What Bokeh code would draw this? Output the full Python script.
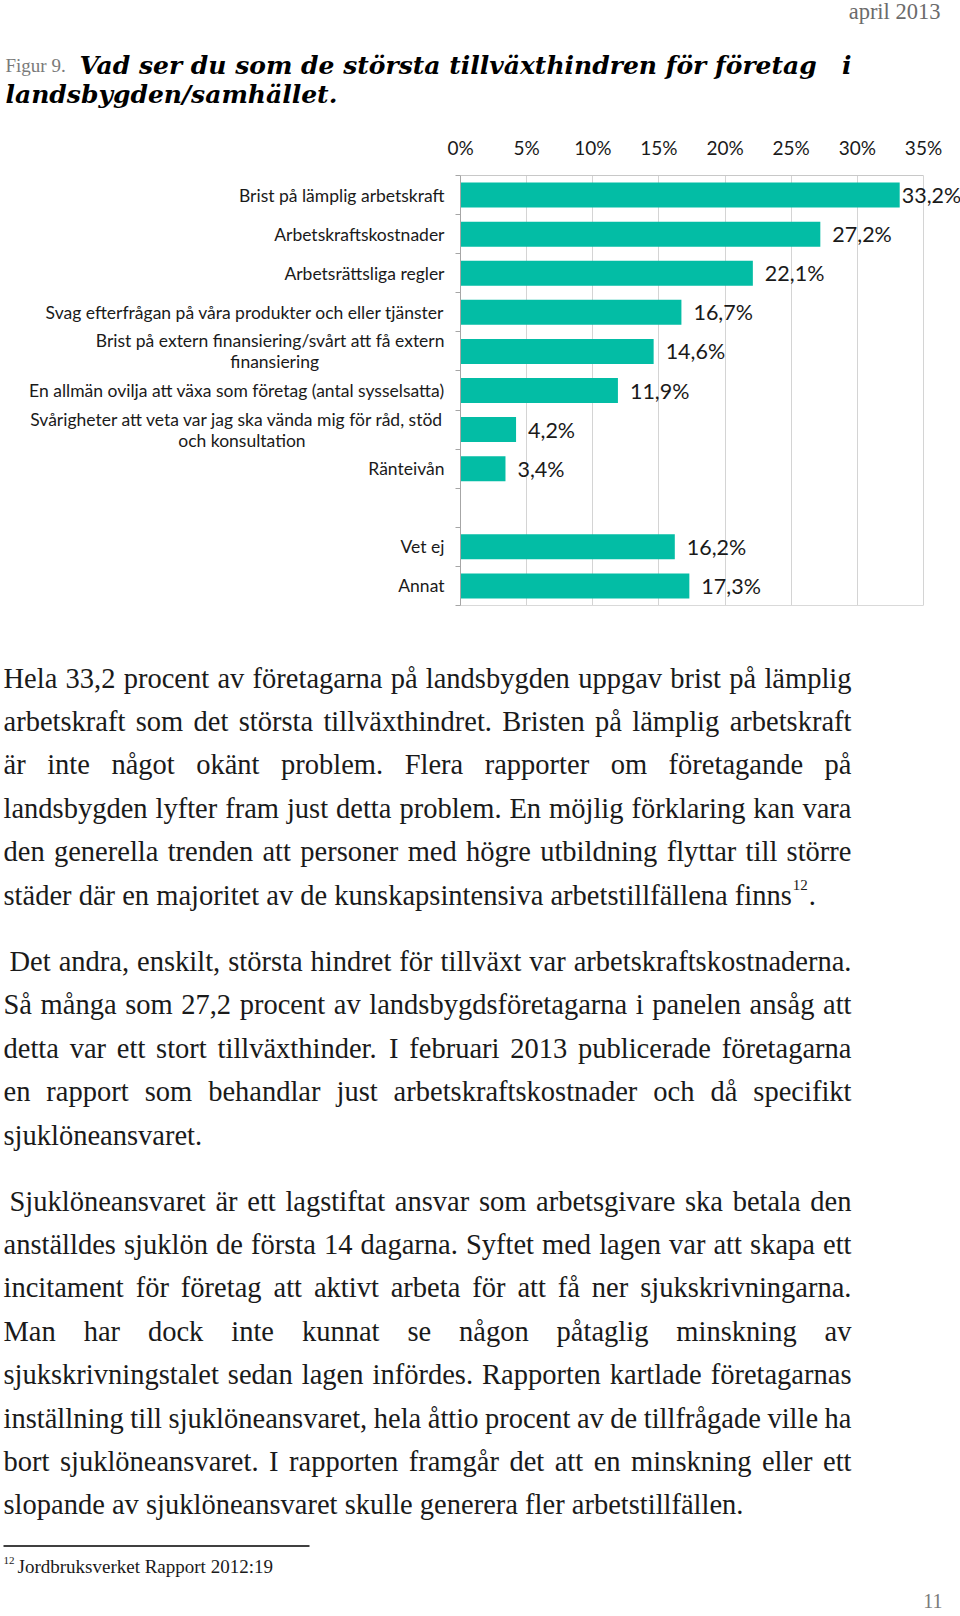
from bokeh.plotting import figure
from bokeh.models import Range1d, FixedTicker, LabelSet, ColumnDataSource, LinearAxis
from bokeh.layouts import column
from bokeh.embed import file_html
from bokeh.resources import INLINE
from bokeh.core.properties import value

# ---------------- data ----------------
categories = [
    "Brist på lämplig arbetskraft",
    "Arbetskraftskostnader",
    "Arbetsrättsliga regler",
    "Svag efterfrågan på våra produkter och eller tjänster",
    "Brist på extern finansiering/svårt att få extern\nfinansiering",
    "En allmän ovilja att växa som företag (antal sysselsatta)",
    "Svårigheter att veta var jag ska vända mig för råd, stöd\noch konsultation",
    "Ränteivån",
    "",
    "Vet ej",
    "Annat",
]
shares = [33.2, 27.2, 22.1, 16.7, 14.6, 11.9, 4.2, 3.4, None, 16.2, 17.3]
x_ticks = [0, 5, 10, 15, 20, 25, 30, 35]
x_tick_labels = ["0%", "5%", "10%", "15%", "20%", "25%", "30%", "35%"]

header_date = "april 2013"
figure_no = "Figur 9."
title_lines = ["Vad ser du som de största tillväxthindren för företag i",
               "landsbygden/samhället."]

paragraphs = [
    ["Hela 33,2 procent av företagarna på landsbygden uppgav brist på lämplig",
     "arbetskraft som det största tillväxthindret. Bristen på lämplig arbetskraft",
     "är inte något okänt problem. Flera rapporter om företagande på",
     "landsbygden lyfter fram just detta problem. En möjlig förklaring kan vara",
     "den generella trenden att personer med högre utbildning flyttar till större",
     "städer där en majoritet av de kunskapsintensiva arbetstillfällena finns¹²."],
    ["Det andra, enskilt, största hindret för tillväxt var arbetskraftskostnaderna.",
     "Så många som 27,2 procent av landsbygdsföretagarna i panelen ansåg att",
     "detta var ett stort tillväxthinder. I februari 2013 publicerade företagarna",
     "en rapport som behandlar just arbetskraftskostnader och då specifikt",
     "sjuklöneansvaret."],
    ["Sjuklöneansvaret är ett lagstiftat ansvar som arbetsgivare ska betala den",
     "anställdes sjuklön de första 14 dagarna. Syftet med lagen var att skapa ett",
     "incitament för företag att aktivt arbeta för att få ner sjukskrivningarna.",
     "Man har dock inte kunnat se någon påtaglig minskning av",
     "sjukskrivningstalet sedan lagen infördes. Rapporten kartlade företagarnas",
     "inställning till sjuklöneansvaret, hela åttio procent av de tillfrågade ville ha",
     "bort sjuklöneansvaret. I rapporten framgår det att en minskning eller ett",
     "slopande av sjuklöneansvaret skulle generera fler arbetstillfällen."],
]
footnote_mark = "12"
footnote_text = "Jordbruksverket Rapport 2012:19"
page_number = "11"

# ---------------- styling helpers ----------------
PAGE_W = 960
TEAL = "#03BDA5"
SERIF = "Liberation Serif"
SANS = "Lato"
TXT_DY = 8  # rendered alphabetic baseline sits this much lower than its data y

# Times / Liberation Serif advance widths (1/1000 em)
_W = dict(zip("abcdefghijklmnopqrstuvwxyz",
              [444, 500, 444, 500, 444, 333, 500, 500, 278, 278, 500, 278, 778,
               500, 500, 500, 500, 333, 389, 278, 500, 500, 722, 500, 500, 444]))
_W.update(dict(zip("ABCDEFGHIJKLMNOPQRSTUVWXYZ",
                   [722, 667, 667, 722, 611, 556, 722, 722, 333, 389, 722, 611, 889,
                    722, 722, 556, 722, 667, 556, 611, 722, 722, 944, 722, 722, 611])))
_W.update({"å": 444, "ä": 444, "ö": 500, "Å": 722, "Ä": 722, "Ö": 722, " ": 250,
           ",": 250, ".": 250, ":": 278, "(": 333, ")": 333, "/": 278, "%": 833,
           "-": 333, "¹": 300, "²": 300})
for d in "0123456789":
    _W[d] = 500


def tw(s, size):
    return sum(_W.get(ch, 500) for ch in s) * size / 1000.0


def text_fig(h):
    f = figure(width=PAGE_W, height=h, x_range=Range1d(0, PAGE_W), y_range=Range1d(h, 0),
               x_axis_type=None, y_axis_type=None, min_border=0, output_backend="svg",
               toolbar_location=None)
    f.frame_align = False
    f.grid.visible = False
    f.outline_line_color = None
    return f


# ---------------- header ----------------
HDR_H = 120
hdr = text_fig(HDR_H)
hdr.text(x=[940], y=[19 - TXT_DY], text=[header_date], text_align="right",
         text_baseline="alphabetic", text_font=value(SERIF), text_font_size="22.5px",
         text_color="#6b6b6b")
hdr.text(x=[5], y=[73 - TXT_DY], text=[figure_no], text_align="left", text_baseline="alphabetic",
         text_font=value(SERIF), text_font_size="19px", text_color="#7a7a7a")
t1_words = title_lines[0].rsplit(" ", 1)
title_style = dict(text_baseline="alphabetic", text_font=value("DejaVu Serif"),
                   text_font_style="bold italic", text_font_size="25px", text_color="#000000")
hdr.text(x=[79, 5], y=[73 - TXT_DY, 101.5 - TXT_DY], text=[t1_words[0], title_lines[1]],
         text_align="left", **title_style)
hdr.text(x=[851], y=[73 - TXT_DY], text=[t1_words[1]], text_align="right", **title_style)

# ---------------- chart ----------------
n = len(categories)
centers = [i + 0.5 for i in range(n)]
bounds = list(range(n + 1))
CH_H = 505
X_MAX = 35
FRAME_L, FRAME_R = 460, 960            # frame spans past 35 % so end labels are not clipped
PX_PER_UNIT = 463 / X_MAX
x_end = (FRAME_R - FRAME_L) / PX_PER_UNIT


def centre_lines(lab):
    # right-aligned multi-line tick labels: pad the shorter line so the block looks centred
    if "\n" not in lab:
        return lab
    a, b = lab.split("\n")
    pad = int(round((len(a) - len(b)) * 7.0 / 2 / 4.55))
    return a + "\n" + b + "\u00a0" * pad


chart = figure(width=PAGE_W, height=CH_H, x_range=Range1d(0, x_end), y_range=Range1d(n, 0),
               x_axis_location="above", output_backend="svg", toolbar_location=None,
               min_border_left=FRAME_L, min_border_right=PAGE_W - FRAME_R,
               min_border_top=55, min_border_bottom=20)
chart.frame_align = False
chart.outline_line_color = None
chart.ygrid.visible = False
chart.xgrid.ticker = FixedTicker(ticks=x_ticks)
chart.xgrid.grid_line_color = "#d4d4d4"

xa = chart.xaxis[0]
xa.ticker = FixedTicker(ticks=x_ticks)
xa.bounds = (0, X_MAX)
xa.major_label_overrides = {t: lab for t, lab in zip(x_ticks, x_tick_labels)}
xa.axis_line_color = "#c8c8c8"
xa.major_tick_out = 0
xa.major_tick_in = 0
xa.minor_tick_out = 0
xa.major_label_standoff = 17
xa.major_label_text_font = SANS
xa.major_label_text_font_size = "19px"
xa.major_label_text_color = "#1a1a1a"

bx = LinearAxis(bounds=(0, X_MAX), ticker=FixedTicker(ticks=[]), axis_line_color="#d9d9d9",
                major_tick_out=0, major_tick_in=0, minor_tick_out=0, minor_tick_in=0,
                major_label_text_font_size="0px")
chart.add_layout(bx, "below")

ya = chart.yaxis[0]
ya.ticker = FixedTicker(ticks=centers, minor_ticks=bounds)
ya.major_label_overrides = {c: centre_lines(lab) for c, lab in zip(centers, categories)}
ya.axis_line_color = "#a6a6a6"
ya.major_tick_out = 0
ya.major_tick_in = 0
ya.minor_tick_out = 5
ya.minor_tick_in = 0
ya.minor_tick_line_color = "#a6a6a6"
ya.major_label_standoff = 11
ya.major_label_text_font = SANS
ya.major_label_text_font_size = "17.5px"
ya.major_label_text_line_height = 1.0
ya.major_label_text_color = "#1a1a1a"

bar_y = [c for c, v in zip(centers, shares) if v is not None]
bar_v = [v for v in shares if v is not None]
bars = ColumnDataSource(dict(
    y=bar_y, v=bar_v,
    lab=[("%.1f" % v).replace(".", ",") + "%" for v in bar_v],
    off=[2 if v == max(bar_v) else 12 for v in bar_v],
))
chart.hbar(y="y", left=0, right="v", height=0.64, source=bars, fill_color=TEAL, line_color=None)
chart.add_layout(LabelSet(x="v", y="y", text="lab", x_offset="off", source=bars,
                          text_baseline="middle", text_align="left",
                          text_font=value(SANS), text_font_size="21.5px", text_color="#1a1a1a"))

# ---------------- body text ----------------
BODY_TOP = HDR_H + CH_H  # page y where body figure starts
BODY_H = 1614 - BODY_TOP
body = text_fig(BODY_H)


def by(page_y):
    return page_y - TXT_DY - BODY_TOP


FS = 28.5
LEFT, RIGHT = 3.0, 851.0
LINE_H = 43.4
para_starts = [685.5, 969.0, 1208.5]  # page baselines of first lines

wx, wy, wt = [], [], []
sup_x, sup_y = [], []
for pi, (p_lines, start) in enumerate(zip(paragraphs, para_starts)):
    for li, line in enumerate(p_lines):
        base = by(start + li * LINE_H)
        indent = 6.0 if (li == 0 and pi > 0) else 0.0
        words = line.split(" ")
        widths = [tw(w, FS) for w in words]
        last = li == len(p_lines) - 1
        if last or len(words) == 1:
            gap = tw(" ", FS)
        else:
            gap = (RIGHT - LEFT - indent - sum(widths)) / (len(words) - 1)
        x = LEFT + indent
        for w, wd in zip(words, widths):
            if "¹²" in w:
                head, tail = w.split("¹²")
                wx.append(x); wy.append(base); wt.append(head)
                x2 = x + tw(head, FS)
                sup_x.append(x2 + 1); sup_y.append(base - 10)
                wx.append(x2 + 1 + tw("12", 15) + 1); wy.append(base); wt.append(tail)
            else:
                wx.append(x); wy.append(base); wt.append(w)
            x += wd + gap

body.text(x=wx, y=wy, text=wt, text_align="left", text_baseline="alphabetic",
          text_font=value(SERIF), text_font_size=f"{FS}px", text_color="#1a1a1a")
body.text(x=sup_x, y=sup_y, text=[footnote_mark] * len(sup_x), text_align="left",
          text_baseline="alphabetic", text_font=value(SERIF), text_font_size="15px",
          text_color="#1a1a1a")

# footnote
rule_y = 1545.5 - BODY_TOP
body.segment(x0=[3], y0=[rule_y], x1=[309], y1=[rule_y], line_color="#000000", line_width=1.5)
fn_base = by(1574)
body.text(x=[3], y=[fn_base - 6], text=[footnote_mark], text_font=value(SERIF),
          text_font_size="11px", text_baseline="alphabetic", text_color="#1a1a1a")
body.text(x=[17], y=[fn_base], text=[footnote_text], text_font=value(SERIF),
          text_font_size="19px", text_baseline="alphabetic", text_color="#1a1a1a")
body.text(x=[942], y=[by(1608)], text=[page_number], text_align="right",
          text_font=value(SERIF), text_font_size="20px", text_baseline="alphabetic",
          text_color="#7a7a7a")

page = column(hdr, chart, body, spacing=0)
open("out.html", "w").write(file_html(page, INLINE))
